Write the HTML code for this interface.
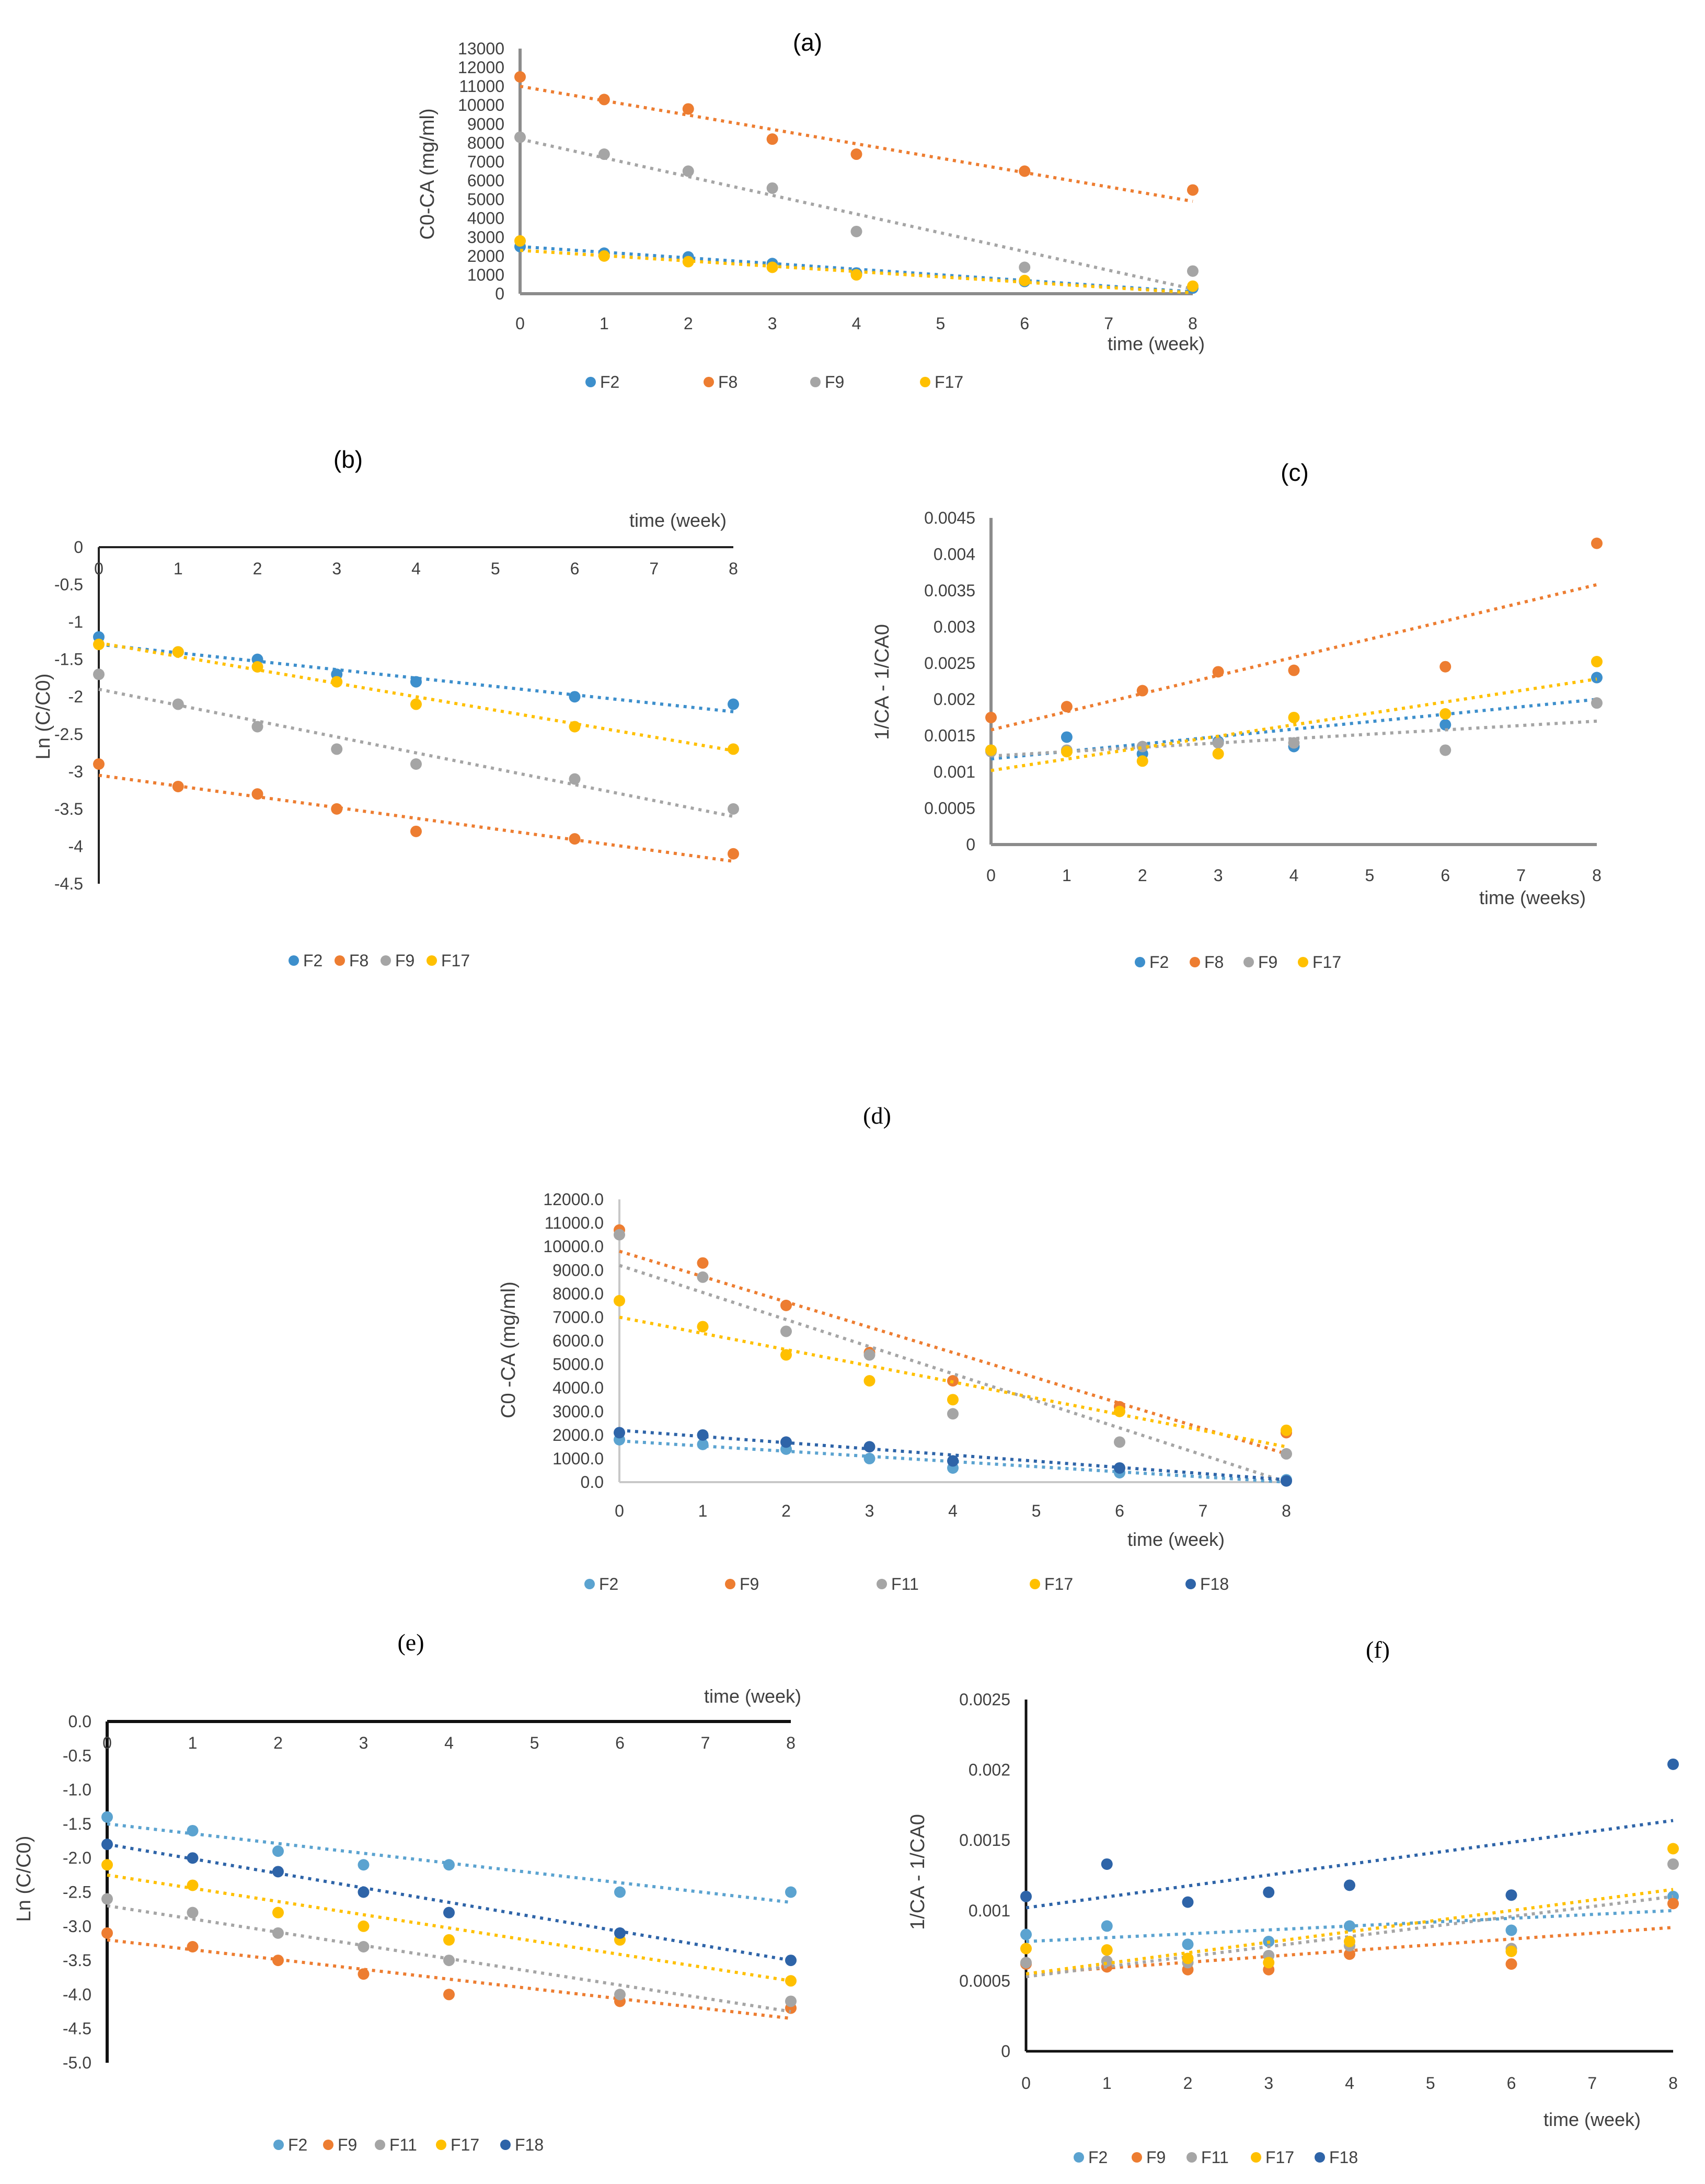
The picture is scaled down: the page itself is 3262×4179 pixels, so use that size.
<!DOCTYPE html>
<html><head><meta charset="utf-8"><style>
html,body{margin:0;padding:0;background:#fff;}
svg{display:block;font-family:"Liberation Sans",sans-serif;}
</style></head><body>
<svg id="fig" width="3262" height="4179" viewBox="0 0 3262 4179" xmlns="http://www.w3.org/2000/svg"></svg>
<script>
const weeks = [0,1,2,3,4,6,8];
const xTicks = [0,1,2,3,4,5,6,7,8];
// (a)
const aNames = ["F2","F8","F9","F17"];
const aF2 = [2500,2150,1950,1600,1100,650,300];
const aF8 = [11500,10300,9800,8200,7400,6500,5500];
const aF9 = [8300,7400,6500,5600,3300,1400,1200];
const aF17 = [2800,2000,1700,1400,1000,700,400];
const aTrendF2 = [2500,100];
const aTrendF8 = [11000,4900];
const aTrendF9 = [8200,250];
const aTrendF17 = [2300,50];
const aYTicks = [0,1000,2000,3000,4000,5000,6000,7000,8000,9000,10000,11000,12000,13000];
// (b)
const bF2 = [-1.2,-1.4,-1.5,-1.7,-1.8,-2.0,-2.1];
const bF8 = [-2.9,-3.2,-3.3,-3.5,-3.8,-3.9,-4.1];
const bF9 = [-1.7,-2.1,-2.4,-2.7,-2.9,-3.1,-3.5];
const bF17 = [-1.3,-1.4,-1.6,-1.8,-2.1,-2.4,-2.7];
const bTrendF2 = [-1.3,-2.2];
const bTrendF8 = [-3.05,-4.2];
const bTrendF9 = [-1.9,-3.6];
const bTrendF17 = [-1.28,-2.72];
const bYTicks = [0,-0.5,-1,-1.5,-2,-2.5,-3,-3.5,-4,-4.5];
// (c)
const cF2 = [0.0013,0.00148,0.00125,0.00142,0.00135,0.00165,0.0023];
const cF8 = [0.00175,0.0019,0.00212,0.00238,0.0024,0.00245,0.00415];
const cF9 = [0.00128,0.0013,0.00135,0.0014,0.0014,0.0013,0.00195];
const cF17 = [0.0013,0.00128,0.00115,0.00125,0.00175,0.0018,0.00252];
const cTrendF2 = [0.00118,0.002];
const cTrendF8 = [0.00158,0.00358];
const cTrendF9 = [0.00122,0.0017];
const cTrendF17 = [0.00102,0.00228];
const cYTicks = [0,0.0005,0.001,0.0015,0.002,0.0025,0.003,0.0035,0.004,0.0045];
// (d)
const dNames = ["F2","F9","F11","F17","F18"];
const dF2 = [1800,1600,1400,1000,600,400,100];
const dF9 = [10700,9300,7500,5500,4300,3200,2100];
const dF11 = [10500,8700,6400,5400,2900,1700,1200];
const dF17 = [7700,6600,5400,4300,3500,3000,2200];
const dF18 = [2100,2000,1700,1500,900,600,50];
const dTrendF2 = [1750,0];
const dTrendF9 = [9800,1200];
const dTrendF11 = [9200,0];
const dTrendF17 = [7000,1500];
const dTrendF18 = [2200,100];
const dYTicks = [0,1000,2000,3000,4000,5000,6000,7000,8000,9000,10000,11000,12000];
// (e)
const eF2 = [-1.4,-1.6,-1.9,-2.1,-2.1,-2.5,-2.5];
const eF9 = [-3.1,-3.3,-3.5,-3.7,-4.0,-4.1,-4.2];
const eF11 = [-2.6,-2.8,-3.1,-3.3,-3.5,-4.0,-4.1];
const eF17 = [-2.1,-2.4,-2.8,-3.0,-3.2,-3.2,-3.8];
const eF18 = [-1.8,-2.0,-2.2,-2.5,-2.8,-3.1,-3.5];
const eTrendF2 = [-1.5,-2.65];
const eTrendF9 = [-3.2,-4.35];
const eTrendF11 = [-2.7,-4.25];
const eTrendF17 = [-2.25,-3.8];
const eTrendF18 = [-1.8,-3.5];
const eYTicks = [0,-0.5,-1,-1.5,-2,-2.5,-3,-3.5,-4,-4.5,-5];
// (f)
const fF2 = [0.00083,0.00089,0.00076,0.00078,0.00089,0.00086,0.0011];
const fF9 = [0.00062,0.0006,0.00058,0.00058,0.00069,0.00062,0.00105];
const fF11 = [0.00063,0.00064,0.00063,0.00068,0.00075,0.00073,0.00133];
const fF17 = [0.00073,0.00072,0.00066,0.00063,0.00078,0.00071,0.00144];
const fF18 = [0.0011,0.00133,0.00106,0.00113,0.00118,0.00111,0.00204];
const fTrendF2 = [0.00078,0.001];
const fTrendF9 = [0.00055,0.00088];
const fTrendF11 = [0.00053,0.0011];
const fTrendF17 = [0.00055,0.00115];
const fTrendF18 = [0.00102,0.00164];
const fYTicks = [0,0.0005,0.001,0.0015,0.002,0.0025];

const NS = "http://www.w3.org/2000/svg";
const fig = document.getElementById('fig');
function mk(tag, parent, attrs){const e=document.createElementNS(NS,tag);for(const k in attrs)e.setAttribute(k,attrs[k]);parent.appendChild(e);return e;}
function txt(parent, x, y, s, size, anchor, extra){const t=mk('text',parent,Object.assign({x:x,y:y,'font-size':size,'text-anchor':anchor||'middle',fill:'#404040'},extra||{}));t.textContent=s;return t;}

const C1 = {F2:'#3d8fcc',F8:'#ed7d31',F9:'#a5a5a5',F17:'#ffc000'};
const C2 = {F2:'#5ba3d0',F9:'#ed7d31',F11:'#a5a5a5',F17:'#ffc000',F18:'#2e64a8'};

function chart(cfg){
  const g = mk('g',fig,{});
  
  
  const sx = v => cfg.x0 + (v - 0) / 8 * (cfg.x1 - cfg.x0);
  const sy = v => cfg.yA + (v - cfg.vA) / (cfg.vB - cfg.vA) * (cfg.yB - cfg.yA);
  const title = txt(g, cfg.titleX, cfg.titleY, cfg.title, 46, 'middle', {fill:'#000','font-family':cfg.serif?'"Liberation Serif",serif':'"Liberation Sans",sans-serif'});
  
  
  // y ticks
  cfg.yTicks.forEach(v=>{
    const t = txt(g, cfg.x0 - 30, sy(v) + 11, cfg.fmt(v), 32, 'end');
    
    
  });
  // axes
  const axY0 = cfg.xAxisAt !== undefined ? sy(cfg.xAxisAt) : sy(cfg.vA);
  const yTop = sy(cfg.yTicks[cfg.yTicks.length-1]);
  const yBot = sy(cfg.yTicks[0]);
  const ya = mk('line',g,{x1:cfg.x0,y1:Math.min(yTop,yBot),x2:cfg.x0,y2:Math.max(yTop,yBot),stroke:cfg.axisColor,'stroke-width':cfg.axisW});
  
  
  const xa = mk('line',g,{x1:cfg.x0,y1:axY0,x2:cfg.x1,y2:axY0,stroke:cfg.axisColor,'stroke-width':cfg.axisW});
  
  
  xTicks.forEach(v=>{
    const t = txt(g, sx(v), axY0 + cfg.xLabOff, String(v), 32, 'middle');
    
    
  });
  const xt = txt(g, cfg.xtX, cfg.xtY, cfg.xTitle, 36, 'middle');
  
  
  const yt = txt(g, 0, 0, cfg.yTitle, 38, 'middle', {transform:`translate(${cfg.ytX},${cfg.ytY}) rotate(-90)`});
  
  
  // series
  cfg.series.forEach(s=>{
    const sg = mk('g',g,{});
    
    
    const tl = mk('line',sg,{x1:sx(0),y1:sy(s.trend[0]),x2:sx(8),y2:sy(s.trend[1]),stroke:s.color,'stroke-width':6,'stroke-dasharray':'6 9'});
    
    
    s.vals.forEach((v,i)=>{
      const c = mk('circle',sg,{cx:sx(weeks[i]),cy:sy(v),r:11,fill:s.color});
      
      
    });
  });
  // legend
  const lg = mk('g',g,{});
  
  
  cfg.series.forEach((s,i)=>{
    const lx = cfg.legX[i];
    const c = mk('circle',lg,{cx:lx,cy:cfg.legY,r:10,fill:s.color});
    
    
    const t = txt(lg, lx + 18, cfg.legY + 11, s.name, 32, 'start');
    
    
  });
}
const fmtInt = v => String(v);
const fmt1 = v => v.toFixed(1);
const fmtG = v => String(v);

chart({name:'chart-a',title:'(a)',titleX:1545,titleY:97,x0:995,x1:2282,yA:562,vA:0,yB:93,vB:13000,yTicks:aYTicks,fmt:fmtInt,
  axisColor:'#8c8c8c',axisW:6,xLabOff:68,xTitle:'time (week)',xtX:2212,xtY:670,yTitle:'C0-CA (mg/ml)',ytX:830,ytY:333,
  legX:[1130,1356,1560,1770],legY:731,
  series:[{name:'F2',color:C1.F2,vals:aF2,trend:aTrendF2},{name:'F8',color:C1.F8,vals:aF8,trend:aTrendF8},{name:'F9',color:C1.F9,vals:aF9,trend:aTrendF9},{name:'F17',color:C1.F17,vals:aF17,trend:aTrendF17}]});
chart({name:'chart-b',title:'(b)',titleX:666,titleY:895,x0:189,x1:1403,yA:1047,vA:0,yB:1691,vB:-4.5,xAxisAt:0,yTicks:bYTicks,fmt:fmtG,
  axisColor:'#222',axisW:4,xLabOff:52,xTitle:'time (week)',xtX:1297,xtY:1008,yTitle:'Ln (C/C0)',ytX:95,ytY:1371,
  legX:[562,650,738,826],legY:1838,
  series:[{name:'F2',color:C1.F2,vals:bF2,trend:bTrendF2},{name:'F8',color:C1.F8,vals:bF8,trend:bTrendF8},{name:'F9',color:C1.F9,vals:bF9,trend:bTrendF9},{name:'F17',color:C1.F17,vals:bF17,trend:bTrendF17}]});
chart({name:'chart-c',title:'(c)',titleX:2477,titleY:920,x0:1896,x1:3055,yA:1616,vA:0,yB:991,vB:0.0045,yTicks:cYTicks,fmt:fmtG,
  axisColor:'#8c8c8c',axisW:6,xLabOff:70,xTitle:'time (weeks)',xtX:2932,xtY:1730,yTitle:'1/CA - 1/CA0',ytX:1700,ytY:1305,
  legX:[2181,2286,2389,2493],legY:1841,
  series:[{name:'F2',color:C1.F2,vals:cF2,trend:cTrendF2},{name:'F8',color:C1.F8,vals:cF8,trend:cTrendF8},{name:'F9',color:C1.F9,vals:cF9,trend:cTrendF9},{name:'F17',color:C1.F17,vals:cF17,trend:cTrendF17}]});
chart({name:'chart-d',title:'(d)',titleX:1678,titleY:2150,serif:true,x0:1185,x1:2461,yA:2836,vA:0,yB:2295,vB:12000,yTicks:dYTicks,fmt:fmt1,
  axisColor:'#c8c8c8',axisW:4,xLabOff:66,xTitle:'time (week)',xtX:2250,xtY:2958,yTitle:'C0 -CA (mg/ml)',ytX:985,ytY:2583,
  legX:[1128,1397,1687,1980,2278],legY:3031,
  series:[{name:'F2',color:C2.F2,vals:dF2,trend:dTrendF2},{name:'F9',color:C2.F9,vals:dF9,trend:dTrendF9},{name:'F11',color:C2.F11,vals:dF11,trend:dTrendF11},{name:'F17',color:C2.F17,vals:dF17,trend:dTrendF17},{name:'F18',color:C2.F18,vals:dF18,trend:dTrendF18}]});
chart({name:'chart-e',title:'(e)',titleX:786,titleY:3158,serif:true,x0:205,x1:1513,yA:3294,vA:0,yB:3947,vB:-5,xAxisAt:0,yTicks:eYTicks,fmt:fmt1,
  axisColor:'#111',axisW:6,xLabOff:52,xTitle:'time (week)',xtX:1440,xtY:3258,yTitle:'Ln (C/C0)',ytX:58,ytY:3595,
  legX:[533,628,727,844,967],legY:4104,
  series:[{name:'F2',color:C2.F2,vals:eF2,trend:eTrendF2},{name:'F9',color:C2.F9,vals:eF9,trend:eTrendF9},{name:'F11',color:C2.F11,vals:eF11,trend:eTrendF11},{name:'F17',color:C2.F17,vals:eF17,trend:eTrendF17},{name:'F18',color:C2.F18,vals:eF18,trend:eTrendF18}]});
chart({name:'chart-f',title:'(f)',titleX:2636,titleY:3172,serif:true,x0:1963,x1:3201,yA:3925,vA:0,yB:3252,vB:0.0025,yTicks:fYTicks,fmt:fmtG,
  axisColor:'#111',axisW:5,xLabOff:72,xTitle:'time (week)',xtX:3046,xtY:4068,yTitle:'1/CA - 1/CA0',ytX:1768,ytY:3582,
  legX:[2064,2175,2280,2403,2525],legY:4128,
  series:[{name:'F2',color:C2.F2,vals:fF2,trend:fTrendF2},{name:'F9',color:C2.F9,vals:fF9,trend:fTrendF9},{name:'F11',color:C2.F11,vals:fF11,trend:fTrendF11},{name:'F17',color:C2.F17,vals:fF17,trend:fTrendF17},{name:'F18',color:C2.F18,vals:fF18,trend:fTrendF18}]});
</script>
</body></html>
